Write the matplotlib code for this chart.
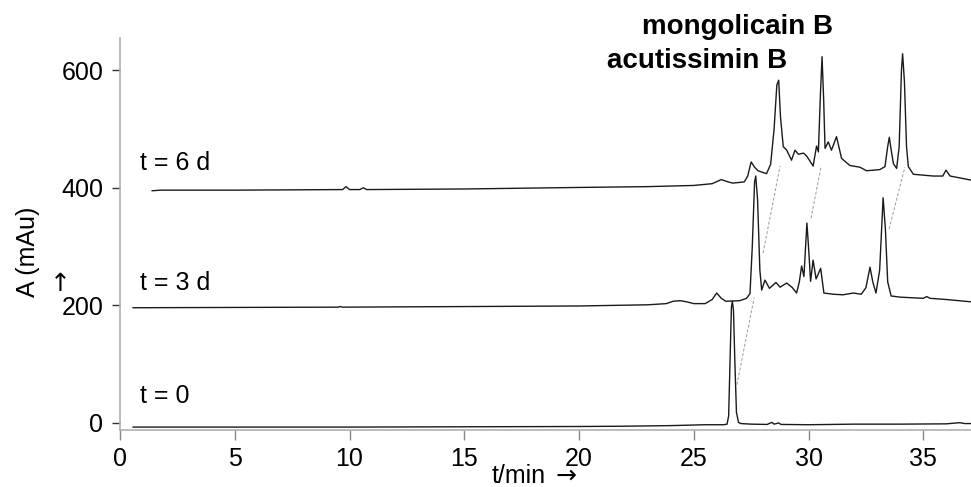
import matplotlib
matplotlib.use("Agg")
import matplotlib.pyplot as plt

plt.rcParams['font.family'] = ['Liberation Sans', 'DejaVu Sans']

# HPLC traces: retention time (min) and absorbance (mAu)
t0_time = [0.57, 5, 10, 15, 20, 22, 24, 25.5, 26.3, 26.45, 26.52, 26.58, 26.64, 26.68,
           26.73, 26.79, 26.86, 26.95, 27.05, 27.5, 28.2, 28.4, 28.5, 28.7, 28.8, 30,
           32, 34, 36, 36.6, 36.8, 37.1]
t0_abs = [-7, -7, -7, -6.5, -6, -5.5, -4.5, -3, -3, -2, 12, 105, 196, 207,
          192, 105, 18, 1, -1, -2, -2.5, 1, -2, 0, -2.5, -3,
          -2, -2, -1.5, 0.5, -1, -1]

t3_time = [0.57, 5, 9.5, 9.6, 9.7, 15, 20, 23, 23.8, 24.1, 24.4, 24.7, 25.0, 25.5,
           25.8, 26.0, 26.2, 26.4, 27.0, 27.3, 27.45, 27.55, 27.65, 27.7, 27.78,
           27.88, 27.96, 28.1, 28.3, 28.58, 28.76, 29.05, 29.3, 29.48, 29.6, 29.7,
           29.8, 29.93, 30.0, 30.09, 30.2, 30.33, 30.53, 30.67, 31.07, 31.5, 31.95,
           32.3, 32.5, 32.68, 32.8, 32.94, 33.1, 33.25, 33.35, 33.45, 33.6, 34.0,
           35.0, 35.15, 35.3, 36.0, 37.1]
t3_abs = [196, 196.5, 197, 198, 197, 198, 199, 201, 203, 207, 208, 206, 203, 203,
          210, 221, 212, 207, 208, 212, 220, 300, 410, 420, 380,
          260, 226, 243, 229, 239, 231, 238, 230, 221, 240, 267,
          249, 340, 300, 241, 277, 245, 263, 221, 219, 218, 221,
          219, 230, 265, 240, 221, 260, 383, 330, 240, 216, 214,
          212, 215, 212, 210, 206]

t6_time = [1.4, 1.8, 5, 9.7, 9.85, 10.0, 10.45, 10.6, 10.75, 15, 20, 23, 25, 25.8,
           26.2, 26.5, 26.7, 27.2, 27.35, 27.5, 27.65, 27.8, 28.17, 28.35, 28.5,
           28.62, 28.7, 28.78, 28.9, 29.05, 29.26, 29.41, 29.56, 29.78, 29.92, 30.2,
           30.35, 30.43, 30.52, 30.59, 30.66, 30.72, 30.86, 31.0, 31.22, 31.44, 31.8,
           32.24, 32.53, 33.11, 33.33, 33.45, 33.52, 33.6, 33.7, 33.84, 33.95, 34.05,
           34.1, 34.18, 34.27, 34.35, 34.57, 35.44, 35.85, 35.99, 36.17, 37.1]
t6_abs = [395, 396, 396, 397, 402, 397, 397, 400, 397, 398, 400.6, 402, 404, 407,
          414, 410, 408, 410, 420, 444, 435, 429, 424, 440, 500,
          575, 583, 520, 470, 464, 447, 464, 457, 459, 454, 437,
          471, 461, 560, 623, 550, 467, 478, 464, 487, 450, 438,
          435, 429, 431, 436, 470, 486, 465, 441, 433, 470, 600,
          628, 580, 470, 436, 423, 420, 420, 430, 420, 413]

# Peak correlation guides: (t_start, A_start, t_end, A_end)
link_t0 = [26.88, 28.02, 30.11, 33.51]
link_a0 = [65, 289, 348, 330]
link_t1 = [27.63, 28.76, 30.54, 34.20]
link_a1 = [213, 437, 435, 435]

trace_labels = ["t = 0", "t = 3 d", "t = 6 d"]
label_t = [0.87, 0.87, 0.87]
label_a = [46, 238, 442]

y_ticks = [0, 200, 400, 600]
x_ticks = [0, 5, 10, 15, 20, 25, 30, 35]

fs = 18

fig = plt.figure(figsize=(9.71, 4.87), dpi=100)
ax = fig.add_axes([0.1236, 0.117, 0.8764, 0.804])

trace_color = '#1a1a1a'
for tt, aa in [(t0_time, t0_abs), (t3_time, t3_abs), (t6_time, t6_abs)]:
    ax.plot(tt, aa, color=trace_color, lw=1.0, solid_joinstyle='round')

for xa, ya, xb, yb in zip(link_t0, link_a0, link_t1, link_a1):
    ax.plot([xa, xb], [ya, yb], color='#999999', lw=0.7, ls=(0, (3, 2)))

for lbl, lx, ly in zip(trace_labels, label_t, label_a):
    ax.text(lx, ly, lbl, fontsize=fs, va='center', ha='left')

ax.text(26.9, 673, "mongolicain B", fontsize=20, fontweight='bold',
        ha='center', va='center', clip_on=False)
ax.text(25.16, 615, "acutissimin B", fontsize=20, fontweight='bold',
        ha='center', va='center', clip_on=False)

ax.set_xlim(0, 37.08)
ax.set_ylim(-12, 654)
ax.set_xticks(x_ticks)
ax.set_yticks(y_ticks)
ax.tick_params(axis='both', labelsize=fs, direction='out')
ax.tick_params(axis='x', length=7, width=1, color='#888888', pad=5)
ax.tick_params(axis='y', length=6, width=1, color='#333333', pad=6)

for side in ['top', 'right']:
    ax.spines[side].set_visible(False)
for side in ['left', 'bottom']:
    ax.spines[side].set_color('#b0b0b0')
    ax.spines[side].set_linewidth(1.2)

fig.text(28 / 971, 1 - 252 / 487, "A (mAu)", rotation=90, fontsize=fs,
         ha='center', va='center')
fig.text(60 / 971, 1 - 284 / 487, "\u2191", fontsize=18, ha='center', va='center',
         family='DejaVu Sans')
fig.text(492 / 971, 1 - 483 / 487, "t/min", fontsize=fs, ha='left', va='baseline')
fig.text(556 / 971, 1 - 483 / 487, "\u2192", fontsize=18, ha='left', va='baseline',
         family='DejaVu Sans')

fig.savefig("out.png", dpi=100)
